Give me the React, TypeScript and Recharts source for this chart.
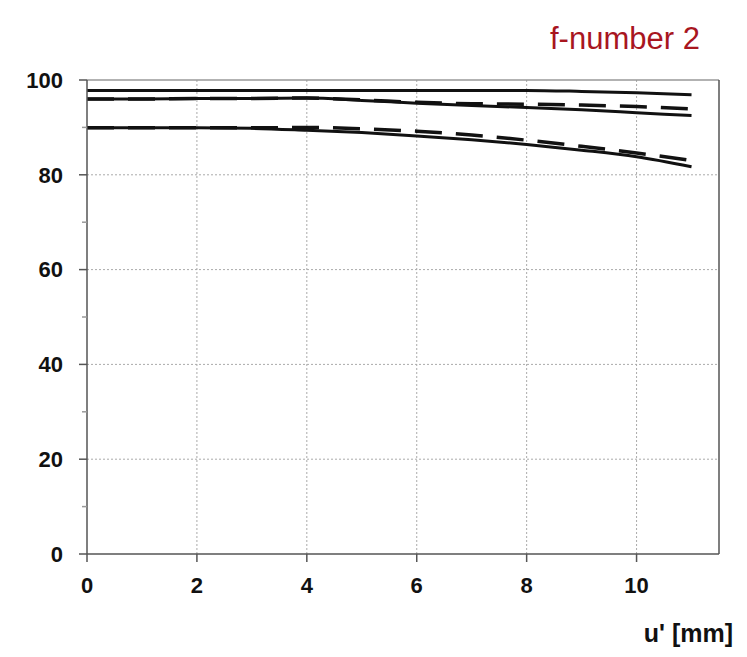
import React from 'react';
import { LineChart, Line, XAxis, YAxis, CartesianGrid, ReferenceLine } from 'recharts';

const uValues = [0, 1, 2, 3, 4, 5, 6, 7, 8, 9, 10, 11];
const topSolid = [97.8, 97.8, 97.8, 97.8, 97.8, 97.8, 97.8, 97.8, 97.8, 97.6, 97.3, 96.9];
const midSolid = [96.0, 96.0, 96.1, 96.1, 96.2, 95.7, 95.1, 94.6, 94.2, 93.7, 93.1, 92.5];
const midDashed = [96.0, 96.0, 96.1, 96.1, 96.2, 95.8, 95.3, 95.0, 94.9, 94.7, 94.4, 93.9];
const lowSolid = [89.9, 89.9, 89.9, 89.8, 89.4, 88.9, 88.2, 87.4, 86.4, 85.2, 83.8, 81.7];
const lowDashed = [89.9, 89.9, 89.9, 89.9, 90.0, 89.7, 89.2, 88.4, 87.3, 86.0, 84.6, 83.0];

const xTicks = [0, 2, 4, 6, 8, 10];
const yTicks = [0, 10, 20, 30, 40, 50, 60, 70, 80, 90, 100];
const gridY = [20, 40, 60, 80];
const gridX = [2, 4, 6, 8, 10];
const titleText = 'f-number 2';
const xAxisTitle = "u' [mm]";

const data = uValues.map((u, i) => ({
  u,
  s1: topSolid[i],
  s2: midSolid[i],
  d2: midDashed[i],
  s3: lowSolid[i],
  d3: lowDashed[i],
}));

const font = 'Liberation Sans, Arial, sans-serif';
const tickStyle = { fontSize: 22, fontWeight: 700, fill: '#111', fontFamily: font };
const Y_TICK_SIZE = 8;
const Y_TICK_MARGIN = 16;

function YTick(props: any) {
  const { x, y, payload } = props;
  const v = payload.value as number;
  const major = v % 20 === 0;
  const axisX = x + Y_TICK_SIZE + Y_TICK_MARGIN;
  return (
    <g>
      <line
        x1={axisX - (major ? Y_TICK_SIZE : 5)}
        x2={axisX}
        y1={y}
        y2={y}
        stroke={major ? '#555' : '#999'}
        strokeWidth={1.5}
      />
      {major && (
        <text x={x} y={y} dy="0.355em" textAnchor="end" {...tickStyle}>
          {v}
        </text>
      )}
    </g>
  );
}

export default function App() {
  return (
    <div style={{ position: 'absolute', left: 0, top: 0, width: 747, height: 657, background: '#fff' }}>
      <LineChart
        width={747}
        height={657}
        data={data}
        margin={{ top: 80, right: 28, bottom: 63, left: 0 }}
      >
        <CartesianGrid
          stroke="#aaa"
          strokeDasharray="2 2"
          horizontalValues={gridY}
          verticalValues={gridX}
        />
        <XAxis
          dataKey="u"
          type="number"
          domain={[0, 11.5]}
          ticks={xTicks}
          height={40}
          tickSize={8}
          tickMargin={15}
          tick={tickStyle}
          stroke="#555"
          strokeWidth={1.5}
          allowDataOverflow
        />
        <YAxis
          type="number"
          domain={[0, 100]}
          ticks={yTicks}
          width={87}
          tickSize={Y_TICK_SIZE}
          tickMargin={Y_TICK_MARGIN}
          tick={<YTick />}
          tickLine={false}
          axisLine={{ stroke: '#555', strokeWidth: 1.5 }}
          interval={0}
        />
        <ReferenceLine y={100} stroke="#999" strokeWidth={1.5} />
        <ReferenceLine x={11.5} stroke="#555" strokeWidth={1.5} />
        <Line type="monotone" dataKey="s1" stroke="#111" strokeWidth={3} dot={false} isAnimationActive={false} />
        <Line type="monotone" dataKey="d2" stroke="#111" strokeWidth={3.5} strokeDasharray="27 14" dot={false} isAnimationActive={false} />
        <Line type="monotone" dataKey="s2" stroke="#111" strokeWidth={3} dot={false} isAnimationActive={false} />
        <Line type="monotone" dataKey="d3" stroke="#111" strokeWidth={3.5} strokeDasharray="27 14" dot={false} isAnimationActive={false} />
        <Line type="monotone" dataKey="s3" stroke="#111" strokeWidth={3} dot={false} isAnimationActive={false} />
      </LineChart>
      <div
        style={{
          position: 'absolute',
          left: 550,
          top: 24,
          fontSize: 31,
          lineHeight: '30px',
          color: '#a8161f',
          fontFamily: font,
          whiteSpace: 'nowrap',
        }}
      >
        {titleText}
      </div>
      <div
        style={{
          position: 'absolute',
          right: 14,
          top: 621,
          fontSize: 25,
          lineHeight: '25px',
          fontWeight: 700,
          color: '#111',
          fontFamily: font,
          whiteSpace: 'nowrap',
        }}
      >
        {xAxisTitle}
      </div>
    </div>
  );
}
